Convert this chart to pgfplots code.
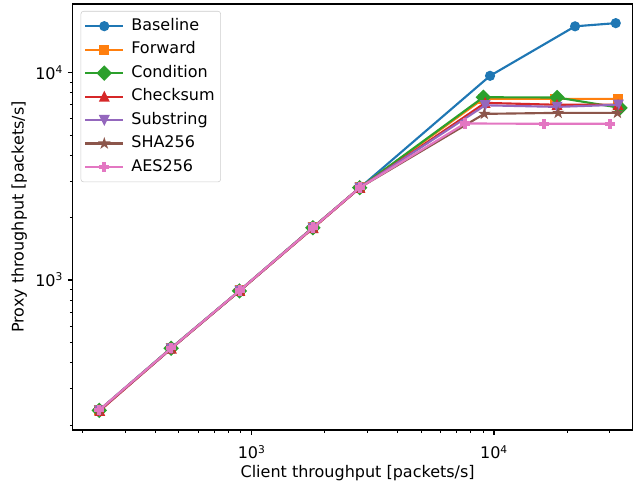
\documentclass[border=0pt]{standalone}
\usepackage{fontspec}
\setmainfont{DejaVu Sans}
\usepackage{pgfplots}
\pgfplotsset{compat=1.18}

\definecolor{c0}{HTML}{1F77B4}
\definecolor{c1}{HTML}{FF7F0E}
\definecolor{c2}{HTML}{2CA02C}
\definecolor{c3}{HTML}{D62728}
\definecolor{c4}{HTML}{9467BD}
\definecolor{c5}{HTML}{8C564B}
\definecolor{c6}{HTML}{E377C2}

% matplotlib-like filled marks
\pgfdeclareplotmark{mtriup}{%
  \pgfpathmoveto{\pgfqpoint{0pt}{\pgfplotmarksize}}%
  \pgfpathlineto{\pgfqpoint{-\pgfplotmarksize}{-\pgfplotmarksize}}%
  \pgfpathlineto{\pgfqpoint{\pgfplotmarksize}{-\pgfplotmarksize}}%
  \pgfpathclose\pgfusepathqfillstroke}
\pgfdeclareplotmark{mtridown}{%
  \pgfpathmoveto{\pgfqpoint{0pt}{-\pgfplotmarksize}}%
  \pgfpathlineto{\pgfqpoint{-\pgfplotmarksize}{\pgfplotmarksize}}%
  \pgfpathlineto{\pgfqpoint{\pgfplotmarksize}{\pgfplotmarksize}}%
  \pgfpathclose\pgfusepathqfillstroke}
\pgfdeclareplotmark{mstar}{%
  \pgfpathmoveto{\pgfqpoint{0pt}{\pgfplotmarksize}}%
  \pgfpathlineto{\pgfqpoint{-0.2245\pgfplotmarksize}{0.3090\pgfplotmarksize}}%
  \pgfpathlineto{\pgfqpoint{-0.9511\pgfplotmarksize}{0.3090\pgfplotmarksize}}%
  \pgfpathlineto{\pgfqpoint{-0.3633\pgfplotmarksize}{-0.1180\pgfplotmarksize}}%
  \pgfpathlineto{\pgfqpoint{-0.5878\pgfplotmarksize}{-0.8090\pgfplotmarksize}}%
  \pgfpathlineto{\pgfqpoint{0pt}{-0.382\pgfplotmarksize}}%
  \pgfpathlineto{\pgfqpoint{0.5878\pgfplotmarksize}{-0.8090\pgfplotmarksize}}%
  \pgfpathlineto{\pgfqpoint{0.3633\pgfplotmarksize}{-0.1180\pgfplotmarksize}}%
  \pgfpathlineto{\pgfqpoint{0.9511\pgfplotmarksize}{0.3090\pgfplotmarksize}}%
  \pgfpathlineto{\pgfqpoint{0.2245\pgfplotmarksize}{0.3090\pgfplotmarksize}}%
  \pgfpathclose\pgfusepathqfillstroke}
\pgfdeclareplotmark{mplus}{%
  \pgfpathmoveto{\pgfqpoint{-0.333\pgfplotmarksize}{-\pgfplotmarksize}}%
  \pgfpathlineto{\pgfqpoint{0.333\pgfplotmarksize}{-\pgfplotmarksize}}%
  \pgfpathlineto{\pgfqpoint{0.333\pgfplotmarksize}{-0.333\pgfplotmarksize}}%
  \pgfpathlineto{\pgfqpoint{\pgfplotmarksize}{-0.333\pgfplotmarksize}}%
  \pgfpathlineto{\pgfqpoint{\pgfplotmarksize}{0.333\pgfplotmarksize}}%
  \pgfpathlineto{\pgfqpoint{0.333\pgfplotmarksize}{0.333\pgfplotmarksize}}%
  \pgfpathlineto{\pgfqpoint{0.333\pgfplotmarksize}{\pgfplotmarksize}}%
  \pgfpathlineto{\pgfqpoint{-0.333\pgfplotmarksize}{\pgfplotmarksize}}%
  \pgfpathlineto{\pgfqpoint{-0.333\pgfplotmarksize}{0.333\pgfplotmarksize}}%
  \pgfpathlineto{\pgfqpoint{-\pgfplotmarksize}{0.333\pgfplotmarksize}}%
  \pgfpathlineto{\pgfqpoint{-\pgfplotmarksize}{-0.333\pgfplotmarksize}}%
  \pgfpathlineto{\pgfqpoint{-0.333\pgfplotmarksize}{-0.333\pgfplotmarksize}}%
  \pgfpathclose\pgfusepathqfillstroke}

\newcommand{\mplfont}{\fontsize{12}{14.4}\selectfont}

\pgfplotsset{
  series/.style={color=#1, line width=1.6pt, mark size=3.3pt,
    mark options={solid, line width=1pt}},
}

\begin{document}
\begin{tikzpicture}
\begin{axis}[
  scale only axis,
  width=419.85pt, height=319.5pt,
  xmode=log, ymode=log,
  log basis x=10, log basis y=10,
  xmin=182.5, xmax=37300,
  ymin=189, ymax=21400,
  axis line style={line width=0.83pt},
  tick align=outside,
  xtick pos=bottom, ytick pos=left,
  major tick length=3.65pt, minor tick length=2.08pt,
  every tick/.style={black, line width=0.83pt},
  every minor tick/.append style={line width=0.63pt},
  font=\mplfont,
  ticklabel style={font=\mplfont},
  xticklabel={10\textsuperscript{\pgfmathprintnumber[assume math mode=true,fixed,precision=0]{\tick}}},
  yticklabel={10\textsuperscript{\pgfmathprintnumber[assume math mode=true,fixed,precision=0]{\tick}}},
  xticklabel style={anchor=base, yshift=-18pt},
  xlabel={Client throughput [packets/s]},
  ylabel={Proxy throughput [packets/s]},
  every axis x label/.style={at={(axis description cs:0.509,-0.112)}, anchor=base},
  every axis y label/.style={at={(axis description cs:-0.0875,0.5)}, rotate=90, anchor=base},
  clip marker paths=true,
  legend cell align=left,
  legend style={at={(axis description cs:0.0143,0.9836)}, anchor=north west,
    draw=black!20, fill=white, rounded corners=2pt,
    inner xsep=2.5pt, inner ysep=3.6pt, row sep=2.4pt,
    nodes={inner sep=2pt, text height=8.7pt, text depth=2.5pt},
    /tikz/every odd column/.append style={column sep=3.3pt},
    font=\mplfont},
  legend image code/.code={\draw[mark repeat=2,mark phase=2]
    plot coordinates {(0pt,0pt) (14.2pt,0pt) (28.4pt,0pt)};},
]
\addplot[series=c0, mark=*] coordinates {
  (235,236) (465,470) (895,893) (1800,1805) (2800,2790) (9630,9640) (21600,16700) (31800,17300)};
\addlegendentry{Baseline}
\addplot[series=c1, mark=square*] coordinates {
  (235,235) (465,468) (895,890) (1790,1790) (2800,2790) (9030,7470) (17900,7460) (32500,7460)};
\addlegendentry{Forward}
\addplot[series=c2, mark=square*, mark options={rotate=45}] coordinates {
  (235,235) (465,468) (890,885) (1790,1785) (2790,2785) (9030,7600) (18200,7580) (33100,6760)};
\addlegendentry{Condition}
\addplot[series=c3, mark=mtriup] coordinates {
  (236,234) (466,467) (893,887) (1795,1780) (2795,2780) (9190,7140) (18200,6990) (32500,6990)};
\addlegendentry{Checksum}
\addplot[series=c4, mark=mtridown] coordinates {
  (235,235) (465,467) (893,888) (1790,1785) (2790,2785) (9190,6950) (18200,6830) (32600,6990)};
\addlegendentry{Substring}
\addplot[series=c5, mark=mstar] coordinates {
  (235,235) (465,467) (890,885) (1790,1785) (2790,2785) (9120,6320) (18400,6390) (32300,6390)};
\addlegendentry{SHA256}
\addplot[series=c6, mark=mplus] coordinates {
  (235,236) (465,468) (893,890) (1795,1790) (2795,2790) (7590,5680) (16100,5660) (30100,5660)};
\addlegendentry{AES256}
\end{axis}
\pgfresetboundingbox
\path (-54.5pt,-41.25pt) rectangle (420.2pt,322.5pt);
\end{tikzpicture}
\end{document}
